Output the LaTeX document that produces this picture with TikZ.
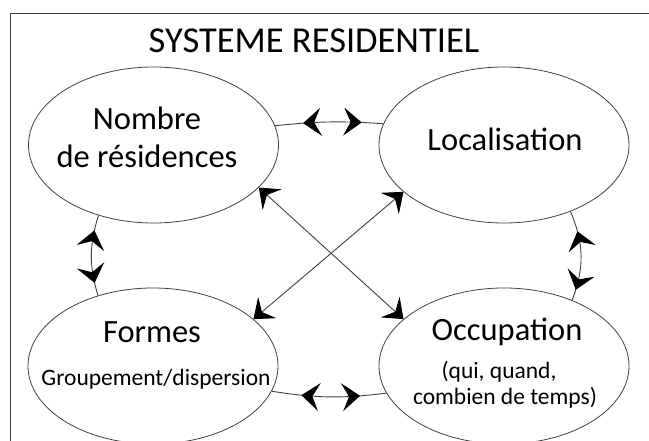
\documentclass[tikz,border=0pt]{standalone}
\usepackage{fontspec}
\setmainfont{Carlito}
\usetikzlibrary{arrows.meta,decorations.markings,shapes.geometric}
\tikzset{myhead/.tip={Stealth[length=18pt,width=28pt,inset=7pt,color=black]}}
\begin{document}
\begin{tikzpicture}[x=1pt,y=-1pt,
  ell/.style={draw=black!75,line width=0.8pt,ellipse,minimum width=250pt,minimum height=156pt,inner sep=0pt},
  big/.style={font=\fontsize{32.5}{38}\selectfont,anchor=base,inner sep=0pt},
  small/.style={font=\fontsize{23.5}{26}\selectfont,anchor=base,inner sep=0pt},
  link/.style={draw=black!75,line width=0.9pt},
  mid/.style 2 args={link,postaction={decorate,decoration={markings,
      mark=at position #1 with {\arrowreversed{myhead}},
      mark=at position #2 with {\arrow{myhead}}}}}
]
\useasboundingbox (0,0) rectangle (649,441);
\draw[draw=black!75,line width=0.9pt] (10.7,441) -- (10.7,13.3) -- (649,13.3);

\node[font=\fontsize{36.5}{40}\selectfont,anchor=base,inner sep=0pt] (title) at (314,53) {SYSTEME RESIDENTIEL};

\node[ell] (TL) at (153.5,145) {};
\node[ell] (TR) at (504,145) {};
\node[ell] (BL) at (153,366) {};
\node[ell] (BR) at (504,366) {};

\node[big] (tl1) at (147,130) {Nombre};
\node[big] (tl2) at (147,168) {de résidences};
\node[big] (tr1) at (505,151) {Localisation};
\node[big] (bl1) at (152,343) {Formes};
\node[small] (bl2) at (156,385) {Groupement/dispersion};
\node[big] (br1) at (507,341) {Occupation};
\node[small] (br2) at (499,378) {(qui, quand,};
\node[small] (br3) at (505,404) {combien de temps)};

% curved links with mid arrowheads
\draw[mid={0.26}{0.80}] (TL.9) to[bend left=5] (TR.170);
\draw[mid={0.26}{0.77}] (BL.348) to[bend right=8] (BR.193);
\draw[mid={0.19}{0.84}] (TL.232) to[bend right=17] (BL.128);
\draw[mid={0.23}{0.88}] (TR.315) to[bend left=22] (BR.44);

% diagonals
\draw[link,{myhead}-{myhead}] (TL.338) -- (BR.155.6);
\draw[link,{myhead}-{myhead}] (TR.205.3) -- (BL.25.5);
\end{tikzpicture}
\end{document}
